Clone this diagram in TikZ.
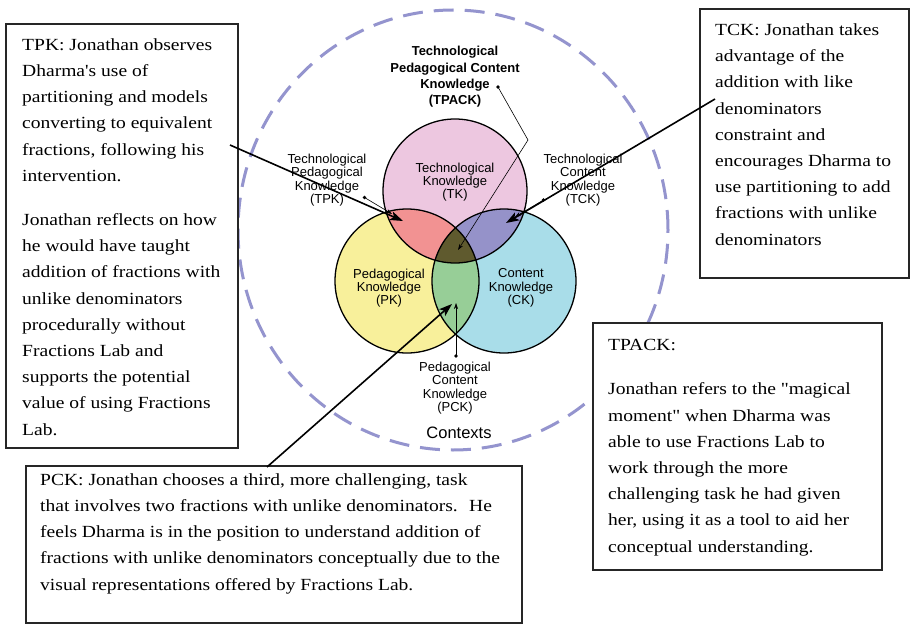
\documentclass[tikz,border=0pt]{standalone}
\usepackage{fontspec}
\newfontfamily\boxfont[FakeStretch=1.15,Ligatures=TeXOff]{Liberation Serif}
\newfontfamily\labfont{Liberation Sans}
\usetikzlibrary{arrows.meta}
\definecolor{tkc}{HTML}{EDC7E0}
\definecolor{pkc}{HTML}{F8F09B}
\definecolor{ckc}{HTML}{A9DDE9}
\definecolor{tpc}{HTML}{F29292}
\definecolor{tcc}{HTML}{9592C9}
\definecolor{pcc}{HTML}{97CE97}
\definecolor{allc}{HTML}{5F5A2E}
\definecolor{ctxc}{HTML}{9494CE}
\begin{document}
\begin{tikzpicture}[x=1pt,y=-1pt,
  venn/.style={draw=black,line width=1.3pt},
  lab/.style={font=\labfont\fontsize{13}{13.3}\selectfont,align=center,inner sep=0pt},
  note/.style={font=\boxfont\fontsize{17}{26.2}\selectfont,align=left,inner sep=0pt,anchor=base west},
  notebox/.style={draw=black!85,line width=1.1pt,fill=white,anchor=north west,inner sep=0pt,outer sep=0pt},
  ptr/.style={line width=0.6pt,-{Stealth[length=6pt,width=4pt]}},
  dotc/.style={circle,fill=black,inner sep=0pt,minimum size=3.8pt},
  bigarrow/.style={line width=1.6pt,-{Stealth[length=13pt,width=9pt,inset=3pt]}}
]
\useasboundingbox (0,0) rectangle (910,626);
\fill[white] (0,0) rectangle (910,626);

% contexts
\coordinate (ctxcenter) at (453,230);
\draw[ctxc,line width=3pt,dash pattern=on 20pt off 11pt] (ctxcenter) ellipse[x radius=215pt,y radius=220pt];

% venn
\coordinate (tk) at (455,191);
\coordinate (pk) at (407,281);
\coordinate (ck) at (504,281);
\fill[tkc] (tk) circle[radius=72pt];
\fill[pkc] (pk) circle[radius=72pt];
\fill[ckc] (ck) circle[radius=72pt];
\begin{scope}
  \clip (pk) circle[radius=72pt];
  \fill[pcc] (ck) circle[radius=72pt];
\end{scope}
\begin{scope}
  \clip (tk) circle[radius=72pt];
  \fill[tpc] (pk) circle[radius=72pt];
  \fill[tcc] (ck) circle[radius=72pt];
  \clip (pk) circle[radius=72pt];
  \fill[allc] (ck) circle[radius=72pt];
\end{scope}
\draw[venn] (tk) circle[radius=72pt];
\draw[venn] (pk) circle[radius=72pt];
\draw[venn] (ck) circle[radius=72pt];

% labels
\node[lab] (tklab) at (455,182) {Technological\\Knowledge\\(TK)};
\node[lab] (pklab) at (389,288) {Pedagogical\\Knowledge\\(PK)};
\node[lab] (cklab) at (521,288) {Content\\Knowledge\\(CK)};
\node[lab] (tpklab) at (327,180) {Technological\\Pedagogical\\Knowledge\\(TPK)};
\node[lab] (tcklab) at (583,180) {Technological\\Content\\Knowledge\\(TCK)};
\node[lab] (pcklab) at (455,388) {Pedagogical\\Content\\Knowledge\\(PCK)};
\node[lab,font=\labfont\bfseries\fontsize{13}{16.3}\selectfont] (tpacklab) at (455,77) {Technological\\Pedagogical Content\\Knowledge\\(TPACK)};
\node[font=\labfont\fontsize{16.5}{18}\selectfont,inner sep=0pt] (ctx) at (459,433) {Contexts};

% thin pointers
\node[dotc] (d1) at (498,87) {};
\coordinate (b1) at (528,140);
\coordinate (t1) at (458,250);
\draw[ptr] (d1.center) -- (b1) -- (t1);
\node[dotc] (d2) at (364.5,197.5) {};
\coordinate (t2) at (392,214);
\draw[ptr] (d2.center) -- (t2);
\node[dotc] (d3) at (543.5,200) {};
\coordinate (t3) at (515,217);
\draw[ptr] (d3.center) -- (t3);
\node[dotc] (d4) at (456,356) {};
\coordinate (t4) at (456,303);
\draw[ptr] (d4.center) -- (t4);

% boxes
\node[notebox,minimum width=232pt,minimum height=424pt] (tpkbox) at (6,24) {};
\node[notebox,minimum width=209pt,minimum height=269pt] (tckbox) at (700,9) {};
\node[notebox,minimum width=289pt,minimum height=247pt] (tpackbox) at (593,323) {};
\node[notebox,minimum width=496pt,minimum height=157pt] (pckbox) at (26,466) {};

% text (anchor = baseline of last line)
\node[note] (tpktext) at (22,435) {TPK: Jonathan observes\\
Dharma's use of\\
partitioning and models\\
converting to equivalent\\
fractions, following his\\
intervention.\\[18pt]
Jonathan reflects on how\\
he would have taught\\
addition of fractions with\\
unlike denominators\\
procedurally without\\
Fractions Lab and\\
supports the potential\\
value of using Fractions\\
Lab.};

\node[note] (tcktext) at (715,245) {TCK: Jonathan takes\\
advantage of the\\
addition with like\\
denominators\\
constraint and\\
encourages Dharma to\\
use partitioning to add\\
fractions with unlike\\
denominators};

\node[note] (tpacktext) at (608,552) {TPACK:\\[18.6pt]
Jonathan refers to the "magical\\
moment" when Dharma was\\
able to use Fractions Lab to\\
work through the more\\
challenging task he had given\\
her, using it as a tool to aid her\\
conceptual understanding.};

\node[note] (pcktext) at (40,590) {PCK: Jonathan chooses a third, more challenging, task\\
that involves two fractions with unlike denominators.~ He\\
feels Dharma is in the position to understand addition of\\
fractions with unlike denominators conceptually due to the\\
visual representations offered by Fractions Lab.};

% thick arrows
\coordinate (s5) at (230,145);
\coordinate (e5) at (403,221);
\coordinate (s6) at (715,99);
\coordinate (e6) at (506,223);
\coordinate (s7) at (267,467);
\coordinate (e7) at (452,304);
\draw[bigarrow] (s5) -- (e5);
\draw[bigarrow] (s6) -- (e6);
\draw[bigarrow] (s7) -- (e7);
\end{tikzpicture}
\end{document}
